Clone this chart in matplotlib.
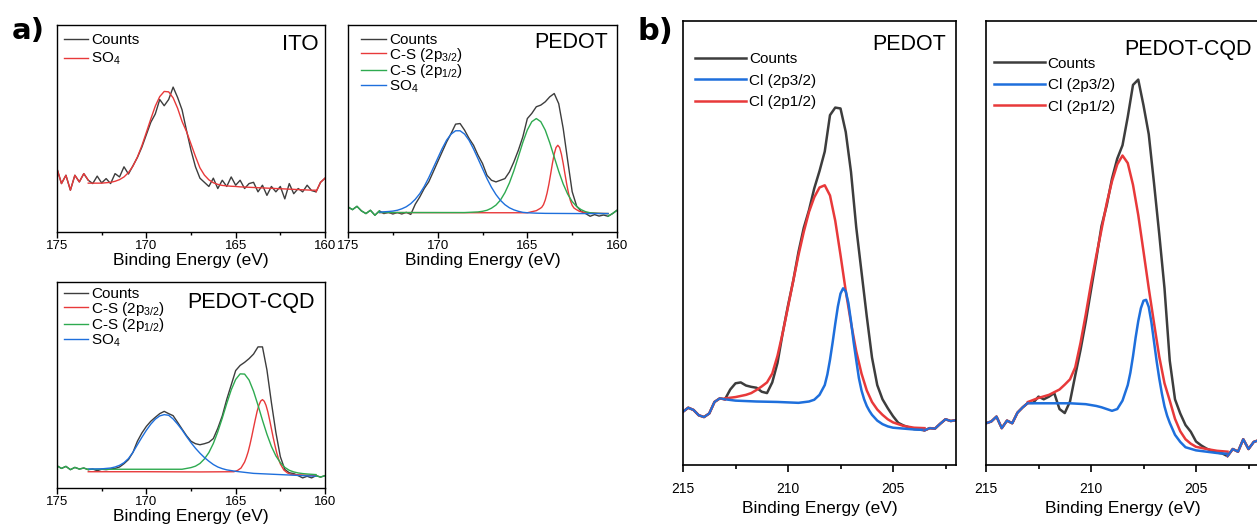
import numpy as np
import matplotlib
matplotlib.use("Agg")
import matplotlib.pyplot as plt

plt.rcParams['font.family'] = ['Liberation Sans', 'DejaVu Sans']
plt.rcParams['mathtext.fontset'] = 'custom'
plt.rcParams['mathtext.rm'] = 'Liberation Sans'
plt.rcParams['mathtext.it'] = 'Liberation Sans:italic'
plt.rcParams['mathtext.bf'] = 'Liberation Sans:bold'

BLACK = '#3d3d3d'
RED = '#e8393a'
GREEN = '#2eaa50'
BLUE = '#1e6fdc'

# ---------------- panel a : S 2p ----------------
# raw counts sampled every 0.25 eV from 175 to 160 eV (intensity in % of frame height)
e_a = np.linspace(175, 160, 61)

ito_counts = [30.6, 23.4, 27.4, 20.2, 27.4, 24.2, 28.2, 25.0, 23.4, 27.0,
              23.7, 25.8, 23.4, 28.2, 26.6, 31.5, 28.0, 32.0, 36.0, 41.0,
              47.0, 53.0, 57.0, 64.0, 61.0, 64.0, 70.0, 65.0, 59.0, 49.0,
              39.5, 31.5, 26.0, 24.0, 22.0, 26.0, 21.0, 25.0, 22.0, 26.6,
              22.6, 25.0, 21.0, 23.4, 24.0, 19.4, 22.6, 17.7, 22.0, 19.4,
              22.0, 16.0, 23.4, 18.5, 21.0, 19.4, 22.6, 20.0, 19.4, 24.0, 26.0]
# SO4 fit on 173.25 .. 160.5 eV (same 0.25 eV grid)
ito_so4 = [23.6, 23.6, 23.6, 23.6, 23.8, 24.0, 24.5, 25.3, 26.6, 28.7,
           31.8, 36.2, 41.7, 48.1, 54.6, 60.8, 65.4, 67.9, 67.7, 64.8,
           59.8, 53.4, 48.5, 42.5, 36.5, 31.0, 27.5, 25.2, 23.8, 23.0,
           22.5, 22.3, 22.1, 22.0, 21.8, 21.7, 21.6, 21.5, 21.4, 21.3,
           21.2, 21.1, 21.0, 20.9, 20.8, 20.7, 20.6, 20.5, 20.4, 20.3,
           20.2, 20.2]

ped_counts = [12.1, 10.8, 12.4, 10.2, 8.9, 10.5, 8.1, 10.2, 8.9, 9.5,
              8.7, 9.4, 8.7, 9.5, 8.5, 13.4, 16.9, 21.0, 24.2, 29.0,
              33.9, 38.7, 43.5, 47.6, 52.1, 52.4, 49.2, 45.2, 41.9, 37.1,
              33.1, 27.4, 25.0, 24.2, 25.0, 25.8, 29.0, 33.9, 39.5, 46.0,
              54.8, 57.3, 60.5, 61.3, 62.9, 65.3, 66.9, 62.0, 50.0, 34.5,
              19.5, 12.5, 10.0, 8.9, 7.6, 8.4, 7.7, 8.2, 7.6, 8.9, 10.5]
ped_so4_e = [173.25, 172.75, 172.5, 172.25, 172, 171.75, 171.5, 171.25, 171, 170.75,
             170.5, 170.25, 170, 169.75, 169.5, 169.25, 169, 168.75, 168.5, 168.25,
             168, 167.75, 167.5, 167.25, 167, 166.75, 166.5, 166.25, 166, 165.75,
             165.5, 165.25, 165, 164.5, 164, 162, 160.5]
ped_so4 = [9.6, 9.9, 10.1, 10.5, 11.2, 12.2, 13.7, 15.8, 18.5, 22.0,
           26.2, 30.9, 35.6, 40.3, 44.4, 47.3, 48.9, 48.9, 47.3, 44.3,
           40.1, 35.4, 30.6, 25.8, 21.6, 18.1, 15.3, 13.2, 11.7, 10.7,
           10.0, 9.5, 9.3, 9.1, 9.0, 8.9, 8.9]
ped_cs12_e = [173.25, 170, 168.5, 168.25, 168, 167.75, 167.5, 167.25, 167, 166.75,
              166.5, 166.25, 166, 165.75, 165.5, 165.25, 165, 164.75, 164.5, 164.25,
              164, 163.75, 163.5, 163.25, 163, 162.75, 162.5, 162.25, 162, 161.75,
              161.5, 161.25, 161, 160.75, 160.5]
ped_cs12 = [9.4, 9.4, 9.4, 9.5, 9.6, 9.7, 10.0, 10.5, 11.5, 13.0,
            15.4, 19.0, 23.7, 29.6, 36.4, 43.3, 49.3, 53.3, 54.8, 53.3,
            49.2, 43.1, 36.2, 29.3, 23.2, 18.3, 14.7, 12.3, 10.8, 9.8,
            9.3, 9.1, 9.0, 8.9, 8.9]
ped_cs32_e = [173.25, 167, 165, 164.8, 164.5, 164.3, 164.2, 164.1, 164.0, 163.9,
              163.8, 163.7, 163.6, 163.5, 163.4, 163.3, 163.2, 163.1, 163.0, 162.9,
              162.8, 162.7, 162.6, 162.5, 162.4, 162.3, 162.1, 161.8, 161, 160.5]
ped_cs32 = [9.4, 9.3, 9.3, 9.7, 10.3, 11.3, 11.9, 13.2, 15.5, 18.8,
            23.0, 28.0, 33.2, 37.7, 40.8, 41.9, 40.8, 37.6, 33.1, 27.9,
            22.9, 18.6, 15.2, 12.9, 11.6, 11.0, 10.0, 9.4, 9.0, 8.9]

cqd_counts = [10.8, 9.5, 10.5, 8.9, 10.0, 9.2, 9.7, 8.9, 9.2, 8.4,
              9.1, 8.9, 9.2, 9.5, 10.2, 11.8, 13.8, 17.3, 22.7, 26.7,
              29.9, 32.4, 34.3, 36.1, 37.2, 36.1, 35.1, 31.9, 28.6, 25.4,
              22.7, 21.5, 21.0, 21.5, 22.2, 24.0, 29.0, 35.0, 43.0, 50.0,
              57.0, 59.5, 61.0, 62.8, 65.0, 68.5, 68.5, 57.3, 41.5, 27.0,
              15.2, 9.0, 7.4, 7.0, 6.0, 4.9, 5.7, 4.9, 6.0, 5.3, 6.0]
cqd_so4_e = [173.25, 172.5, 172, 171.75, 171.5, 171.25, 171, 170.75, 170.5, 170.25,
             170, 169.75, 169.5, 169.25, 169, 168.75, 168.5, 168.25, 168, 167.75,
             167.5, 167.25, 167, 166.75, 166.5, 166.25, 166, 165.75, 165.5, 165,
             164.5, 164, 163, 162, 161, 160.5]
cqd_so4 = [9.2, 9.3, 9.7, 10.2, 11.0, 12.3, 14.3, 17.3, 21.0, 24.6,
           28.0, 31.0, 33.4, 35.0, 35.6, 35.3, 33.5, 31.0, 28.2, 25.0,
           22.0, 19.3, 16.9, 14.8, 13.0, 11.4, 10.2, 9.4, 8.8, 8.1,
           7.6, 7.1, 6.7, 6.3, 5.9, 5.7]
cqd_cs12_e = [173.25, 170, 168, 167.75, 167.5, 167.25, 167, 166.75, 166.5, 166.25,
              166, 165.75, 165.5, 165.25, 165, 164.75, 164.5, 164.25, 164, 163.75,
              163.5, 163.25, 163, 162.75, 162.5, 162.25, 162, 161.75, 161.5, 161.25,
              161, 160.5]
cqd_cs12 = [9.1, 9.1, 9.1, 9.5, 9.9, 10.6, 11.9, 14.1, 17.2, 21.6,
            27.3, 33.9, 41.0, 47.6, 52.7, 55.4, 55.3, 52.4, 47.0, 40.2,
            32.9, 26.1, 20.2, 15.6, 12.3, 10.0, 8.6, 7.8, 7.3, 7.0,
            6.8, 6.5]
cqd_cs32_e = [173.25, 170, 167, 165.1, 164.9, 164.7, 164.5, 164.4, 164.3, 164.2,
              164.1, 164.0, 163.9, 163.8, 163.7, 163.6, 163.5, 163.4, 163.3, 163.2,
              163.1, 163.0, 162.9, 162.8, 162.7, 162.6, 162.5, 162.3, 162.1, 161.9,
              161, 160.5]
cqd_cs32 = [7.9, 7.9, 7.8, 7.9, 8.5, 9.7, 12.6, 14.9, 17.6, 21.1,
            25.0, 29.2, 33.3, 37.2, 40.2, 42.2, 42.9, 42.1, 40.1, 37.0,
            33.1, 28.8, 24.5, 20.6, 17.0, 14.1, 11.7, 8.7, 7.3, 6.6,
            6.2, 6.1]

# ---------------- panel b : Cl 2p ----------------
# raw counts every 0.25 eV from 215 to 202 eV
e_b = np.linspace(215, 202, 53)

pb_counts = [12.0, 12.9, 12.4, 11.2, 10.8, 11.6, 14.2, 15.0, 14.8, 17.0,
             18.4, 18.6, 17.9, 17.6, 17.4, 16.5, 16.2, 18.6, 23.0, 29.8,
             35.9, 41.5, 48.0, 53.4, 57.4, 62.3, 66.2, 70.6, 78.8, 80.5,
             80.3, 75.0, 66.0, 53.5, 43.5, 33.5, 24.2, 18.0, 14.8, 12.8,
             11.0, 9.5, 8.9, 8.5, 8.1, 8.0, 7.8, 8.3, 8.2, 9.3,
             10.3, 9.9, 10.1]
pb_cl32_e = [213.0, 212.5, 211.5, 210.5, 209.5, 209.0, 208.75, 208.5, 208.25, 208.125,
             208.0, 207.875, 207.75, 207.625, 207.5, 207.375, 207.25, 207.125, 207.0, 206.875,
             206.75, 206.625, 206.5, 206.375, 206.25, 206.125, 206.0, 205.75, 205.5, 205.25,
             205.0, 204.5, 204.0, 203.5]
pb_cl32 = [14.8, 14.5, 14.3, 14.2, 14.0, 14.3, 14.7, 15.8, 18.0, 20.4,
           23.7, 27.6, 31.8, 35.7, 38.6, 39.8, 39.1, 36.5, 32.4, 27.7,
           23.6, 19.6, 16.8, 14.8, 13.3, 12.2, 11.3, 10.0, 9.2, 8.7,
           8.4, 8.2, 8.0, 7.9]
pb_cl12_e = [213.0, 212.5, 212.0, 211.75, 211.5, 211.25, 211.0, 210.75, 210.5, 210.25,
             210.0, 209.75, 209.5, 209.25, 209.0, 208.75, 208.5, 208.25, 208.0, 207.75,
             207.5, 207.25, 207.0, 206.75, 206.5, 206.25, 206.0, 205.75, 205.5, 205.25,
             205.0, 204.5, 204.0, 203.5]
pb_cl12 = [15.0, 15.3, 15.8, 16.2, 16.9, 17.7, 18.6, 20.6, 24.6, 29.8,
           35.6, 41.5, 47.3, 52.5, 57.0, 60.3, 62.5, 63.0, 60.7, 55.0,
           47.3, 39.2, 32.0, 25.6, 20.6, 16.8, 14.2, 12.5, 11.3, 10.3,
           9.6, 8.8, 8.4, 8.3]

cb_counts = [9.4, 9.8, 10.9, 8.3, 10.0, 9.4, 11.8, 13.0, 14.0, 14.0,
             15.4, 14.8, 15.4, 16.2, 12.6, 11.7, 14.3, 20.2, 25.9, 32.3,
             39.4, 46.4, 53.8, 58.5, 64.5, 69.0, 72.0, 78.4, 85.6, 86.8,
             81.0, 74.5, 63.5, 52.0, 39.8, 23.5, 14.8, 11.6, 9.0, 7.5,
             5.3, 4.4, 3.7, 3.2, 2.8, 2.6, 2.0, 3.6, 3.0, 5.8,
             3.6, 5.2, 5.6]
cb_cl32_e = [213.0, 212.0, 211.0, 210.25, 209.75, 209.5, 209.25, 209.0, 208.75, 208.5,
             208.25, 208.125, 208.0, 207.875, 207.75, 207.625, 207.5, 207.375, 207.25, 207.125,
             207.0, 206.875, 206.75, 206.625, 206.5, 206.375, 206.25, 206.0, 205.75, 205.5,
             205.0, 204.5, 204.0, 203.5]
cb_cl32 = [13.9, 13.9, 13.9, 13.7, 13.3, 13.0, 12.6, 12.2, 12.6, 14.5,
           18.0, 20.8, 24.5, 28.7, 32.4, 35.3, 37.0, 37.2, 35.6, 32.2,
           27.8, 23.4, 19.5, 16.1, 13.2, 11.1, 9.5, 6.8, 5.2, 4.0,
           3.3, 3.0, 2.7, 2.5]
cb_cl12_e = [213.0, 212.5, 212.0, 211.5, 211.25, 211.0, 210.75, 210.5, 210.25, 210.0,
             209.75, 209.5, 209.25, 209.0, 208.75, 208.5, 208.25, 208.0, 207.75, 207.5,
             207.25, 207.0, 206.75, 206.5, 206.25, 206.0, 205.75, 205.5, 205.25, 205.0,
             204.5, 204.0, 203.5]
cb_cl12 = [14.2, 15.1, 15.8, 17.0, 18.1, 19.3, 22.0, 27.5, 33.9, 40.8,
           47.1, 53.0, 59.0, 63.9, 67.7, 69.7, 68.0, 63.1, 56.3, 48.1,
           39.8, 32.0, 24.4, 18.4, 14.5, 10.4, 7.6, 5.8, 4.8, 4.1,
           3.6, 3.2, 3.0]

a_ticks = [175, 170, 165, 160]
a_minor = [172.5, 167.5, 162.5]
b_ticks = [215, 210, 205]
b_minor = [212.5, 207.5, 202.5]

# ---------------- figure ----------------
W, H = 1257, 529
fig = plt.figure(figsize=(W / 100, H / 100), dpi=100)


def frame(l, t, r, b):
    return fig.add_axes([l / W, 1 - b / H, (r - l) / W, (b - t) / H])


def style(ax, xlim, major, minor, lw, tlen, pad, lpad, tsize):
    ax.set_xlim(*xlim)
    ax.set_ylim(0, 100)
    ax.set_yticks([])
    ax.set_xticks(major)
    ax.set_xticks(minor, minor=True)
    ax.tick_params(axis='x', which='major', direction='out', length=tlen,
                   width=lw, labelsize=tsize, pad=pad)
    ax.tick_params(axis='x', which='minor', direction='out', length=tlen * 0.6,
                   width=lw)
    for s in ax.spines.values():
        s.set_linewidth(lw)
    ax.set_xlabel('Binding Energy (eV)', fontsize=12.5, labelpad=lpad)


def legend_a(ax, x, y, sp):
    ax.legend(loc='upper left', bbox_to_anchor=(x, y), frameon=False,
              fontsize=11, handlelength=1.6, handletextpad=0.2,
              labelspacing=sp, borderpad=0, borderaxespad=0)


LW_A = 1.0

# ITO
ax1 = frame(57, 25, 325, 232)
ax1.plot(e_a, ito_counts, color=BLACK, lw=LW_A, label='Counts')
ax1.plot(e_a[7:59], ito_so4, color=RED, lw=LW_A, label='SO$_4$')
ax1.plot(e_a[:8], ito_counts[:8], color=RED, lw=LW_A)
ax1.plot(e_a[58:], ito_counts[58:], color=RED, lw=LW_A)
style(ax1, (175, 160), a_ticks, a_minor, 1.0, 4, 1.5, 1, 9.5)
legend_a(ax1, 0.025, 0.96, 0.25)
ax1.text(0.975, 0.905, 'ITO', transform=ax1.transAxes, ha='right',
         va='center', fontsize=16)

# PEDOT (S 2p)
ax2 = frame(348, 25, 617, 232)
ax2.plot(e_a, ped_counts, color=BLACK, lw=LW_A, label='Counts')
ax2.plot(ped_cs32_e, ped_cs32, color=RED, lw=LW_A, label='C-S (2p$_{3/2}$)')
ax2.plot(ped_cs12_e, ped_cs12, color=GREEN, lw=LW_A, label='C-S (2p$_{1/2}$)')
ax2.plot(ped_so4_e, ped_so4, color=BLUE, lw=LW_A, label='SO$_4$')
ax2.plot(e_a[:8], ped_counts[:8], color=GREEN, lw=LW_A)
ax2.plot(e_a[58:], ped_counts[58:], color=GREEN, lw=LW_A)
style(ax2, (175, 160), a_ticks, a_minor, 1.0, 4, 1.5, 1, 9.5)
legend_a(ax2, 0.05, 0.96, -0.1)
ax2.text(0.967, 0.915, 'PEDOT', transform=ax2.transAxes, ha='right',
         va='center', fontsize=15.5)

# PEDOT-CQD (S 2p)
ax3 = frame(57, 282, 325, 488)
ax3.plot(e_a, cqd_counts, color=BLACK, lw=LW_A, label='Counts')
ax3.plot(cqd_cs32_e, cqd_cs32, color=RED, lw=LW_A, label='C-S (2p$_{3/2}$)')
ax3.plot(cqd_cs12_e, cqd_cs12, color=GREEN, lw=LW_A, label='C-S (2p$_{1/2}$)')
ax3.plot(cqd_so4_e, cqd_so4, color=BLUE, lw=LW_A, label='SO$_4$')
ax3.plot(e_a[:8], cqd_counts[:8], color=GREEN, lw=LW_A)
ax3.plot(e_a[58:], cqd_counts[58:], color=GREEN, lw=LW_A)
style(ax3, (175, 160), a_ticks, a_minor, 1.0, 4, 1.5, 1, 9.5)
legend_a(ax3, 0.025, 0.975, -0.1)
ax3.text(0.963, 0.9, 'PEDOT-CQD', transform=ax3.transAxes, ha='right',
         va='center', fontsize=15.5)

# panel b
LW_B = 1.8


def panel_b(ax, counts, c32e, c32, c12e, c12, title, tx, ty, lx, ly):
    h0, = ax.plot(e_b, counts, color=BLACK, lw=LW_B)
    h2, = ax.plot(c12e, c12, color=RED, lw=LW_B)
    h1, = ax.plot(c32e, c32, color=BLUE, lw=LW_B)
    for sl in (slice(0, 9), slice(46, None)):
        ax.plot(e_b[sl], counts[sl], color=RED, lw=LW_B)
        ax.plot(e_b[sl], counts[sl], color=BLUE, lw=LW_B * 0.8)
    style(ax, (215, 202), b_ticks, b_minor, 1.2, 5, 7, 4, 10)
    ax.legend([h0, h1, h2], ['Counts', 'Cl (2p3/2)', 'Cl (2p1/2)'],
              loc='upper left', bbox_to_anchor=(lx, ly), frameon=False,
              fontsize=11, handlelength=3.3, handletextpad=0.2,
              labelspacing=0.5, borderpad=0, borderaxespad=0)
    ax.text(tx, ty, title, transform=ax.transAxes, ha='right', va='center',
            fontsize=15.5)


ax4 = frame(683, 21, 956, 465)
panel_b(ax4, pb_counts, pb_cl32_e, pb_cl32, pb_cl12_e, pb_cl12,
        'PEDOT', 0.963, 0.946, 0.045, 0.93)
ax5 = frame(986, 21, 1259, 465)
panel_b(ax5, cb_counts, cb_cl32_e, cb_cl32, cb_cl12_e, cb_cl12,
        'PEDOT-CQD', 0.974, 0.935, 0.03, 0.92)

fig.text(12 / W, 1 - 31 / H, 'a)', fontsize=21, fontweight='bold',
         family='DejaVu Sans', va='center', ha='left')
fig.text(638 / W, 1 - 31 / H, 'b)', fontsize=22, fontweight='bold',
         family='DejaVu Sans', va='center', ha='left')

fig.savefig('out.png', dpi=100)
